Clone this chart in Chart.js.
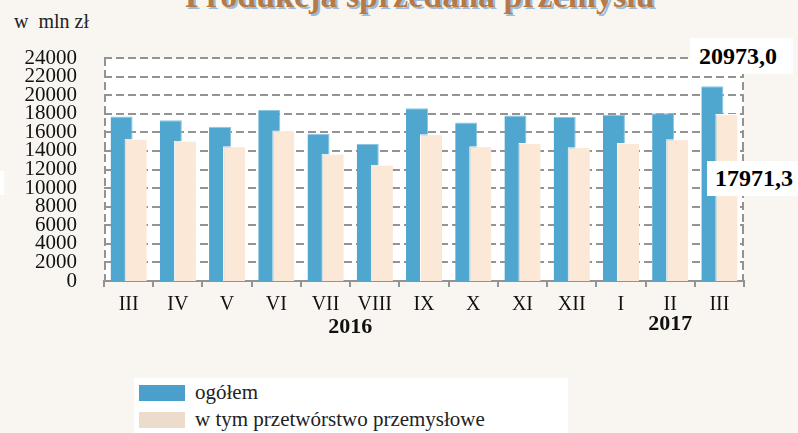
<!DOCTYPE html>
<html>
<head>
<meta charset="UTF-8">
<title>Produkcja sprzedana przemysłu</title>
<script src="https://cdn.jsdelivr.net/npm/chart.js"></script>
<style>
html, body { margin: 0; padding: 0; }
body { width: 798px; height: 433px; background: #f9f6f1; position: relative; overflow: hidden; font-family: "Liberation Serif", serif; }
#wrap { position: absolute; left: 0; top: 0; width: 798px; height: 433px; }
.title { position: absolute; left: 185px; top: -21px; font-size: 34px; font-weight: bold; color: #b57a45; text-shadow: 2px 2px 0 #9dbcdc; white-space: nowrap; line-height: 1; }
.unit { position: absolute; left: 14px; top: 10px; font-size: 20px; color: #222; }
.valbox { position: absolute; background: #fff; font-weight: bold; font-size: 24px; color: #000; line-height: 36px; padding-left: 9px; box-sizing: border-box; }
.legend { position: absolute; left: 134px; top: 378px; width: 434px; height: 60px; background: #fff; }
.legend .sw { position: absolute; left: 5px; width: 46px; height: 16px; }
.legend .lb { position: absolute; left: 61px; font-size: 21px; color: #222; }
.stub { position: absolute; left: 0; top: 171px; width: 4px; height: 24px; background: #fff; }
</style>
</head>
<body>
<div class="title">Produkcja sprzedana przemysłu</div>
<div class="unit">w&nbsp; mln zł</div>
<div class="stub"></div>
<div id="wrap"><canvas id="chart"></canvas></div>
<div class="valbox" id="box1" style="left:690px; top:38px; width:103px; height:36px;"></div>
<div class="valbox" id="box2" style="left:707px; top:161px; width:91px; height:35px; padding-left:8px; line-height:35px;"></div>
<div class="legend">
  <div class="sw" style="top:7px; background:#4aa0cb;"></div>
  <div class="lb" style="top:2px;">ogółem</div>
  <div class="sw" style="top:34px; background:#ecdccb;"></div>
  <div class="lb" style="top:29px;">w tym przetwórstwo przemysłowe</div>
</div>

<script>
// miesiące III 2016 - III 2017
const months = ["III", "IV", "V", "VI", "VII", "VIII", "IX", "X", "XI", "XII", "I", "II", "III"];
const ogolem = [17700, 17300, 16600, 18400, 15850, 14750, 18600, 17050, 17800, 17650, 17900, 18050, 20973.0];
const przetworstwo = [15300, 15100, 14500, 16200, 13700, 12500, 15800, 14500, 14850, 14400, 14850, 15250, 17971.3];
const yTicks = [0, 2000, 4000, 6000, 8000, 10000, 12000, 14000, 16000, 18000, 20000, 22000, 24000];
const years = [{ text: "2016", from: 4, to: 5, dy: 46 }, { text: "2017", from: 11, to: 11, dy: 43 }];

const fmt = v => v.toFixed(1).replace('.', ',');
document.getElementById('box1').textContent = fmt(ogolem[ogolem.length - 1]);
document.getElementById('box2').textContent = fmt(przetworstwo[przetworstwo.length - 1]);

const GRID = '#939393';

const plotBg = {
  id: 'plotBg',
  beforeDraw(chart) {
    const a = chart.chartArea, c = chart.ctx;
    c.save();
    c.fillStyle = '#fff';
    c.fillRect(a.left, a.top, a.right - a.left, a.bottom - a.top);
    c.restore();
  },
  beforeDatasetsDraw(chart) {
    // dashed grid + dashed side borders
    const a = chart.chartArea, c = chart.ctx, y = chart.scales.y;
    c.save();
    c.strokeStyle = GRID;
    c.lineWidth = 2;
    c.setLineDash([8, 4]);
    yTicks.forEach(v => {
      if (v === 0) return;
      const py = Math.round(y.getPixelForValue(v));
      c.beginPath(); c.moveTo(a.left, py); c.lineTo(a.right, py); c.stroke();
    });
    [a.left + 1, a.right - 1].forEach(px => {
      c.beginPath(); c.moveTo(px, a.top); c.lineTo(px, a.bottom); c.stroke();
    });
    c.restore();
  },
  afterDatasetsDraw(chart) {
    // beige bars lie on top of the blue ones
    chart.getDatasetMeta(1).controller.draw();
  },
  afterDraw(chart) {
    const x = chart.scales.x, c = chart.ctx;
    c.save();
    c.font = 'bold 22px "Liberation Serif"';
    c.fillStyle = '#111';
    c.textAlign = 'center';
    c.textBaseline = 'middle';
    years.forEach(y => {
      const px = (x.getPixelForValue(y.from) + x.getPixelForValue(y.to)) / 2;
      c.fillText(y.text, px, x.top + y.dy);
    });
    c.restore();
  }
};

new Chart(document.getElementById('chart'), {
  type: 'bar',
  data: {
    labels: months,
    datasets: [
      { label: 'ogółem', data: ogolem, backgroundColor: '#4fa6cf', borderColor: '#8cc6e2', borderWidth: { top: 1, right: 1, left: 0, bottom: 0 }, categoryPercentage: 0.57, barPercentage: 1.57 },
      { label: 'w tym przetwórstwo przemysłowe', data: przetworstwo, backgroundColor: '#fbe8d6', borderColor: '#ffffff', borderWidth: { top: 1, right: 0, left: 1, bottom: 0 }, categoryPercentage: 0.57, barPercentage: 1.57 }
    ]
  },
  options: {
    responsive: true,
    maintainAspectRatio: false,
    animation: false,
    layout: { padding: { top: 58, right: 54, bottom: 0, left: 0 } },
    plugins: { legend: { display: false }, tooltip: { enabled: false } },
    scales: {
      x: {
        grid: { drawOnChartArea: false, drawTicks: true, tickLength: 6, color: GRID, lineWidth: 2, offset: true },
        border: { display: true, color: GRID, width: 2 },
        ticks: { color: '#111', font: { family: '"Liberation Serif"', size: 20 }, padding: 6, maxRotation: 0, autoSkip: false },
        afterFit(s) { s.height = 152; }
      },
      y: {
        min: 0, max: 24000,
        afterBuildTicks(s) { s.ticks = yTicks.map(v => ({ value: v })); },
        grid: { display: false },
        border: { display: false },
        ticks: { color: '#111', font: { family: '"Liberation Serif"', size: 21, lineHeight: 0.9 }, padding: 19, autoSkip: false, callback: v => String(v) },
        afterFit(s) { s.width = 104; }
      }
    },
    elements: { bar: { borderSkipped: false } }
  },
  plugins: [plotBg]
});
</script>
</body>
</html>
